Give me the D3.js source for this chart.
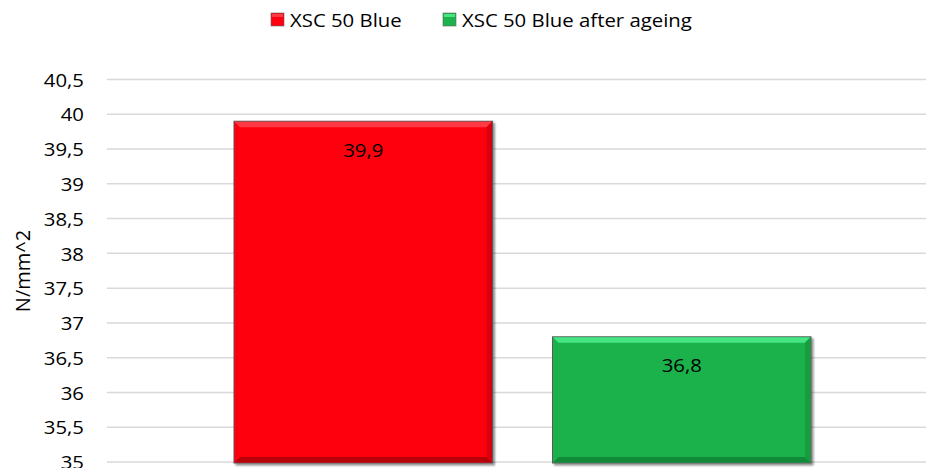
<!DOCTYPE html>
<html><head><meta charset="utf-8">
<script src="https://cdn.jsdelivr.net/npm/d3@7/dist/d3.min.js"></script>
<style>html,body{margin:0;padding:0;background:#fff;overflow:hidden}</style>
</head><body><svg id="c" width="926" height="468"></svg>
<script>
const series = ["XSC 50 Blue", "XSC 50 Blue after ageing"];
const values = [39.9, 36.8];
const valueLabels = ["39,9", "36,8"];
const tickValues = [35, 35.5, 36, 36.5, 37, 37.5, 38, 38.5, 39, 39.5, 40, 40.5];
const tickLabels = ["35", "35,5", "36", "36,5", "37", "37,5", "38", "38,5", "39", "39,5", "40", "40,5"];
const yTitle = "N/mm^2";

const fills = ["#fe0010", "#1db24b"];
const lights = ["#ff3a44", "#45e584"];
const darks = ["#d8000c", "#179c40"];
const darker = ["#b8000a", "#138a3a"];

const FONT = "'Open Sans', 'Noto Sans', sans-serif";
const svg = d3.select("#c");

const y = d3.scaleLinear().domain([35, 40.5]).range([462, 79.5]);
const x = d3.scaleBand().domain(series).range([107, 938]).paddingInner(0.1884).paddingOuter(0.3987);

// gridlines
svg.append("g").selectAll("line").data(tickValues).join("line")
  .attr("x1", 107).attr("x2", 926)
  .attr("y1", d => y(d)).attr("y2", d => y(d))
  .attr("stroke", "#d9d9d9").attr("stroke-width", 1.5);

// y axis
const yAxis = d3.axisLeft(y).tickValues(tickValues).tickFormat((d, i) => tickLabels[i]).tickSize(0).tickPadding(0);
const ga = svg.append("g").attr("transform", "translate(84,0)").call(yAxis);
ga.select(".domain").remove();
ga.selectAll("text").attr("font-family", FONT).attr("font-size", 18.5).attr("fill", "#000")
  .attr("dy", "0.36em").attr("text-anchor", "end").attr("transform", "scale(1.1,1)");

// y title
svg.append("text").attr("transform", "translate(30,271) rotate(-90)")
  .attr("text-anchor", "middle").attr("font-family", FONT).attr("font-size", 20).attr("fill", "#000")
  .text(yTitle);

// bars
const defs = svg.append("defs");
const f = defs.append("filter").attr("id", "sh").attr("x", "-10%").attr("y", "-10%").attr("width", "130%").attr("height", "130%");
f.append("feGaussianBlur").attr("in", "SourceAlpha").attr("stdDeviation", 1.2);
f.append("feOffset").attr("dx", 1.5).attr("dy", 1.5).attr("result", "b");
f.append("feComponentTransfer").append("feFuncA").attr("type", "linear").attr("slope", 0.45);
const fm = f.append("feMerge"); fm.append("feMergeNode"); fm.append("feMergeNode").attr("in", "SourceGraphic");

const bars = svg.append("g").selectAll("g").data(series).join("g");
bars.each(function(s, i){
  const g = d3.select(this);
  const x0 = x(s), w = x.bandwidth(), x1 = x0 + w;
  const y0 = y(values[i]), y1 = y(35) + 1;
  const b = 6;
  g.append("rect").attr("x", x0).attr("y", y0).attr("width", w).attr("height", y1 - y0)
    .attr("fill", fills[i]).attr("stroke", "#5a5a5a").attr("stroke-width", 1).attr("filter", "url(#sh)");
  g.append("polygon").attr("points", [[x0+0.5,y0+0.5],[x1-0.5,y0+0.5],[x1-b,y0+b],[x0+b,y0+b]].join(" ")).attr("fill", lights[i]);
  g.append("polygon").attr("points", [[x1-0.5,y0+0.5],[x1-b,y0+b],[x1-b,y1-b],[x1-0.5,y1-0.5]].join(" ")).attr("fill", darks[i]);
  g.append("polygon").attr("points", [[x0+0.5,y1-0.5],[x0+b,y1-b],[x1-b,y1-b],[x1-0.5,y1-0.5]].join(" ")).attr("fill", darker[i]);
  g.append("text").attr("x", x0 + w/2).attr("y", y0 + 35.5).attr("text-anchor", "middle")
    .attr("font-family", FONT).attr("font-size", 18.5).attr("fill", "#000")
    .attr("transform", `translate(${x0 + w/2},0) scale(1.1,1) translate(${-(x0 + w/2)},0)`)
    .text(valueLabels[i]);
});

// legend
const legendX = [271, 443];
const lg = svg.append("g").selectAll("g").data(series).join("g")
  .attr("transform", (d, i) => `translate(${legendX[i]},13)`);
lg.append("rect").attr("width", 13).attr("height", 13).attr("fill", (d, i) => fills[i]).attr("stroke", "#666").attr("stroke-width", 0.6);
lg.append("rect").attr("x", 1).attr("y", 1).attr("width", 11).attr("height", 3).attr("fill", (d, i) => lights[i]);
lg.append("text").attr("x", 19).attr("y", 13.7)
  .attr("font-family", FONT).attr("font-size", 18.5).attr("fill", "#000")
  .attr("transform", "translate(19,0) scale(1.1,1) translate(-19,0)")
  .text(d => d);
</script></body></html>
